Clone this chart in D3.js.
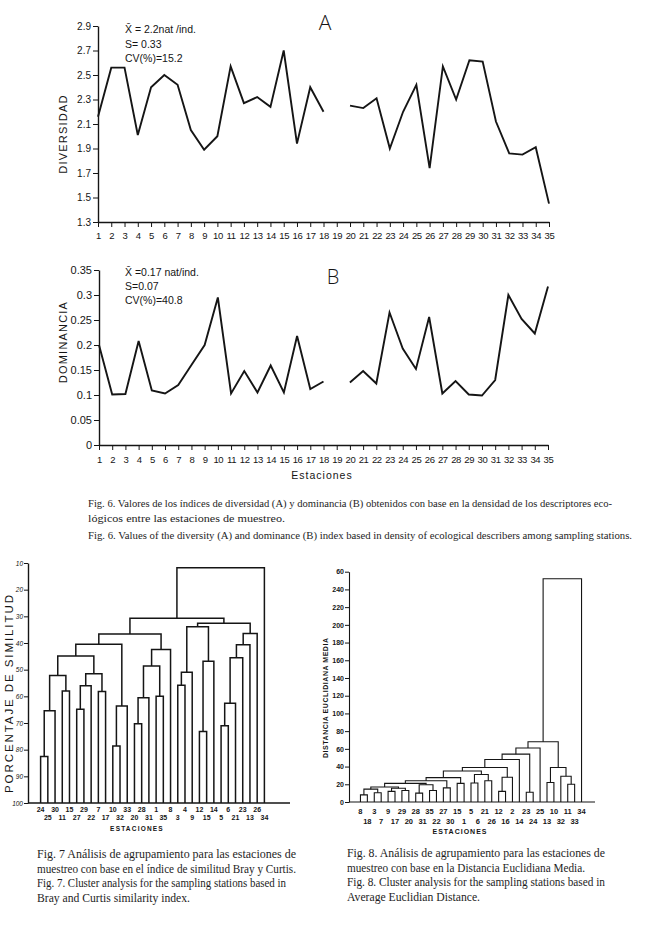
<!DOCTYPE html>
<html><head><meta charset="utf-8">
<script src="https://cdn.jsdelivr.net/npm/d3@7"></script>
<style>body{margin:0;background:#fff}svg{display:block}</style>
</head><body>
<script>
// ---------- DATA ----------
const stations = [1,2,3,4,5,6,7,8,9,10,11,12,13,14,15,16,17,18,19,20,21,22,23,24,25,26,27,28,29,30,31,32,33,34,35];
const diversidad = [2.16,2.56,2.56,2.01,2.40,2.50,2.42,2.05,1.89,2.00,2.57,2.27,2.32,2.24,2.70,1.94,2.40,2.20,null,2.25,2.23,2.31,1.90,2.20,2.42,1.74,2.57,2.30,2.62,2.61,2.12,1.86,1.85,1.91,1.45];
const dominancia = [0.200,0.101,0.102,0.208,0.109,0.103,0.120,0.160,0.200,0.295,0.103,0.148,0.105,0.159,0.105,0.218,0.112,0.127,null,0.125,0.148,0.123,0.265,0.193,0.152,0.256,0.103,0.128,0.101,0.099,0.130,0.300,0.252,0.223,0.317];
const divTicks = [1.3,1.5,1.7,1.9,2.1,2.3,2.5,2.7,2.9];
const domTicks = [0,0.05,0.1,0.15,0.2,0.25,0.3,0.35];
const domTickLabels = ["0","0.05","0.1","0.15","0.2","0.25","0.3","0.35"];
const statsA = ["X\u0304 = 2.2nat /ind.","S= 0.33","CV(%)=15.2"];
const statsB = ["X\u0304 =0.17 nat/ind.","S=0.07","CV(%)=40.8"];

// Fig 7: Bray-Curtis dendrogram (leaves in drawing order; merges = [a, b, similarity %])
const fig7Leaves = ["24","25","30","11","15","27","29","22","7","17","10","32","33","20","28","31","1","35","8","3","4","9","12","15","14","5","6","21","23","13","26","34"];
const fig7Merges = [[0,1,82.6],[32,2,65.4],[3,4,58],[33,34,52.2],[5,6,64.8],[36,7,56],[8,9,58.2],[37,38,51.5],[35,39,44.9],[10,11,78.6],[41,12,63.6],[40,42,40.5],[13,14,70.3],[44,15,60.5],[16,17,60],[45,46,48.6],[47,18,42.4],[43,48,36.6],[19,20,55.8],[50,21,51],[22,23,73.2],[52,24,46.8],[51,53,33.9],[25,26,71],[55,27,62.6],[56,28,45.5],[57,29,40.7],[58,30,36.4],[54,59,32.6],[49,60,30.7],[61,31,11.8]];
const fig7Ticks = [10,20,30,40,50,60,70,80,90,100];

// Fig 8: Average Euclidean distance dendrogram
const fig8Leaves = ["8","18","3","7","9","17","29","20","28","31","35","22","27","30","15","1","5","6","21","26","12","16","2","14","23","24","25","13","10","32","11","33","34"];
const fig8Merges = [[0,1,8],[2,3,10.5],[4,5,12],[6,7,13],[33,34,14.5],[35,36,15.5],[37,38,17],[8,9,10],[10,11,13],[40,41,19.5],[39,42,21],[12,13,16],[43,44,24],[14,15,21],[45,46,27.5],[16,17,21.5],[18,19,24],[48,49,31],[47,50,35],[20,21,12],[52,22,28],[51,53,39],[54,23,48],[24,25,11],[55,56,54],[57,26,61],[27,28,22],[30,31,20],[29,60,29],[59,61,39],[58,62,68],[63,32,252]];
const fig8Ticks = [0,20,40,60,80,100,120,140,160,180,200,220,240,260];
const fig8TickLabels = ["0","20","40","60","80","100","120","140","160","180","200","220","240","60"];

const cap6 = ["Fig. 6. Valores de los índices de diversidad (A) y dominancia (B) obtenidos con base en la densidad de los descriptores eco-",
              "lógicos entre las estaciones de muestreo.",
              "Fig. 6. Values of the diversity (A) and dominance (B) index based in density of  ecological describers among  sampling stations."];
const cap7 = ["Fig. 7  Análisis de agrupamiento para las estaciones de","muestreo con base en el índice de similitud Bray y Curtis.","Fig. 7. Cluster analysis for the sampling stations based in","Bray and Curtis similarity index."];
const cap8 = ["Fig. 8. Análisis de agrupamiento para las estaciones de","muestreo con base en la Distancia Euclidiana Media.","Fig. 8. Cluster analysis for the sampling stations based in","Average Euclidian Distance."];

// ---------- DRAW ----------
const ink = "#151515";
const sans = "'Liberation Sans', Arial, sans-serif";
const serif = "'Liberation Serif', 'Times New Roman', serif";
const svg = d3.select("body").append("svg").attr("width",655).attr("height",950);
svg.append("rect").attr("width",655).attr("height",950).attr("fill","#fff");

function styleAxis(g, fs, sw){
  g.selectAll(".domain").attr("stroke",ink).attr("stroke-width",sw);
  g.selectAll(".tick line").attr("stroke",ink).attr("stroke-width",1);
  g.selectAll(".tick text").attr("fill",ink).attr("font-size",fs).attr("font-family",sans);
}

// Panel A
const xA = d3.scalePoint().domain(stations).range([98,549]);
const yA = d3.scaleLinear().domain([1.3,2.9]).range([222,26]);
const axAy = svg.append("g").attr("transform","translate(98,0)")
  .call(d3.axisLeft(yA).tickValues(divTicks).tickFormat(d=>d.toFixed(1)).tickSize(5).tickSizeOuter(0).tickPadding(2));
styleAxis(axAy,10,1.4);
const axAx = svg.append("g").attr("transform","translate(0,222)")
  .call(d3.axisBottom(xA).tickSize(5).tickSizeOuter(0).tickPadding(5));
styleAxis(axAx,9.5,1.4);
axAx.selectAll(".tick text").attr("letter-spacing",-0.4);
const lineA = d3.line().defined(d=>d[1]!=null).x(d=>xA(d[0])).y(d=>yA(d[1]));
svg.append("path").datum(stations.map((s,i)=>[s,diversidad[i]])).attr("d",lineA)
  .attr("fill","none").attr("stroke",ink).attr("stroke-width",1.9).attr("stroke-linejoin","miter");
svg.append("text").attr("transform","translate(67,134) rotate(-90)").attr("text-anchor","middle")
  .attr("font-family",sans).attr("font-size",11).attr("letter-spacing",1.2).attr("fill",ink).text("DIVERSIDAD");
svg.append("g").selectAll("text").data(statsA).join("text")
  .attr("x",125).attr("y",(d,i)=>33+i*14.5).attr("font-family",sans).attr("font-size",10.5).attr("fill",ink).text(d=>d);
svg.append("text").attr("x",325).attr("y",30).attr("text-anchor","middle").attr("font-family","'Open Sans', sans-serif")
  .attr("font-size",21).attr("font-weight",300).attr("fill",ink).text("A");

// Panel B
const xB = d3.scalePoint().domain(stations).range([99,548]);
const yB = d3.scaleLinear().domain([0,0.35]).range([445,270]);
const axBy = svg.append("g").attr("transform","translate(99,0)")
  .call(d3.axisLeft(yB).tickValues(domTicks).tickFormat((d,i)=>domTickLabels[i]).tickSize(5).tickSizeOuter(0).tickPadding(2));
styleAxis(axBy,11,1.4);
const axBx = svg.append("g").attr("transform","translate(0,445)")
  .call(d3.axisBottom(xB).tickSize(5).tickSizeOuter(0).tickPadding(6));
styleAxis(axBx,9.5,1.4);
axBx.selectAll(".tick text").attr("letter-spacing",-0.4);
const lineB = d3.line().defined(d=>d[1]!=null).x(d=>xB(d[0])).y(d=>yB(d[1]));
svg.append("path").datum(stations.map((s,i)=>[s,dominancia[i]])).attr("d",lineB)
  .attr("fill","none").attr("stroke",ink).attr("stroke-width",1.9).attr("stroke-linejoin","miter");
svg.append("text").attr("transform","translate(67,342) rotate(-90)").attr("text-anchor","middle")
  .attr("font-family",sans).attr("font-size",11).attr("letter-spacing",1.2).attr("fill",ink).text("DOMINANCIA");
svg.append("g").selectAll("text").data(statsB).join("text")
  .attr("x",125).attr("y",(d,i)=>276+i*14).attr("font-family",sans).attr("font-size",10.5).attr("fill",ink).text(d=>d);
svg.append("text").attr("x",333).attr("y",284).attr("text-anchor","middle").attr("font-family","'Open Sans', sans-serif")
  .attr("font-size",20).attr("font-weight",300).attr("fill",ink).text("B");
svg.append("text").attr("x",322).attr("y",479).attr("text-anchor","middle").attr("font-family",sans)
  .attr("font-size",10.5).attr("letter-spacing",1).attr("fill",ink).text("Estaciones");

// captions
function caption(lines, x, y0, dy, widths, fs){
  svg.append("g").selectAll("text").data(lines).join("text")
    .attr("x",x).attr("y",(d,i)=>y0+(Array.isArray(dy)?dy[i]:i*dy))
    .attr("font-family",serif).attr("font-size",fs).attr("fill","#1e1e1e")
    .each(function(d,i){ if(widths[i]) d3.select(this).attr("textLength",widths[i]).attr("lengthAdjust","spacingAndGlyphs"); })
    .text(d=>d);
}
caption(cap6, 88, 507, [0,15,32], [524,197,544], 10.8);
caption(cap7, 37, 858, 14.5, [259,259,249,153], 11.8);
caption(cap8, 347, 857, 14.5, [258,238,258,133], 11.8);

// dendrogram helper
function dendro(leaves, merges, x0, x1, y, sw){
  const nodes = leaves.map(l=>({name:l, h:null}));
  merges.forEach(([a,b,h])=>nodes.push({children:[nodes[a],nodes[b]], h}));
  const root = d3.hierarchy(nodes[nodes.length-1]);
  d3.cluster().size([x1-x0,1]).separation(()=>1)(root);
  const base = y.range()[0];
  const yy = n => n.data.h==null ? base : y(n.data.h);
  const g = svg.append("g").attr("transform",`translate(${x0},0)`);
  g.selectAll("path").data(root.descendants().filter(n=>n.children)).join("path")
    .attr("d", n=>{const [c0,c1]=n.children; return `M${c0.x},${yy(c0)}V${yy(n)}H${c1.x}V${yy(c1)}`;})
    .attr("fill","none").attr("stroke",ink).attr("stroke-width",sw);
  return root.leaves().map(l=>({x:x0+l.x, name:l.data.name}));
}

// Fig 7
const y7 = d3.scaleLinear().domain([100,10]).range([803,563]);
const ax7 = svg.append("g").attr("transform","translate(28,0)")
  .call(d3.axisLeft(y7).tickValues(fig7Ticks).tickSize(4).tickSizeOuter(0).tickPadding(1));
styleAxis(ax7,6.5,1.4);
ax7.selectAll(".tick text").attr("font-style","italic");
svg.append("line").attr("x1",28).attr("x2",290).attr("y1",y7(100)).attr("y2",y7(100)).attr("stroke",ink).attr("stroke-width",1.4);
const l7 = dendro(fig7Leaves, fig7Merges, 37, 268, y7, 1.5);
svg.append("g").selectAll("text").data(l7).join("text")
  .attr("x",d=>d.x).attr("y",(d,i)=>i%2?820:812).attr("text-anchor","middle")
  .attr("font-family",sans).attr("font-size",7).attr("font-weight","bold").attr("fill",ink).text(d=>d.name);
svg.append("text").attr("x",137).attr("y",831).attr("text-anchor","middle").attr("font-family",sans)
  .attr("font-size",6.5).attr("font-weight","bold").attr("letter-spacing",1.2).attr("fill",ink).text("ESTACIONES");
svg.append("text").attr("transform","translate(13,694) rotate(-90)").attr("text-anchor","middle")
  .attr("font-family",sans).attr("font-size",11.5).attr("textLength",198).attr("lengthAdjust","spacing").attr("fill",ink).text("PORCENTAJE DE SIMILITUD");

// Fig 8
const y8 = d3.scaleLinear().domain([0,260]).range([802,571.7]);
const ax8 = svg.append("g").attr("transform","translate(349,0)")
  .call(d3.axisLeft(y8).tickValues(fig8Ticks).tickFormat((d,i)=>fig8TickLabels[i]).tickSize(4).tickSizeOuter(0).tickPadding(1));
styleAxis(ax8,7,1.1);
ax8.selectAll(".tick text").attr("font-weight","bold");
svg.append("line").attr("x1",349).attr("x2",595).attr("y1",y8(0)).attr("y2",y8(0)).attr("stroke",ink).attr("stroke-width",1.2);
const l8 = dendro(fig8Leaves, fig8Merges, 357, 585, y8, 1.1);
svg.append("g").selectAll("text").data(l8).join("text")
  .attr("x",d=>d.x).attr("y",(d,i)=>i%2?824:814).attr("text-anchor","middle")
  .attr("font-family",sans).attr("font-size",7.5).attr("font-weight","bold").attr("fill",ink).text(d=>d.name);
svg.append("text").attr("x",460).attr("y",834).attr("text-anchor","middle").attr("font-family",sans)
  .attr("font-size",7).attr("font-weight","bold").attr("letter-spacing",1).attr("fill",ink).text("ESTACIONES");
svg.append("text").attr("transform","translate(328,698) rotate(-90)").attr("text-anchor","middle")
  .attr("font-family",sans).attr("font-size",7).attr("font-weight","bold").attr("textLength",120).attr("lengthAdjust","spacing").attr("fill",ink).text("DISTANCIA EUCLIDIANA MEDIA");
</script>
</body></html>
